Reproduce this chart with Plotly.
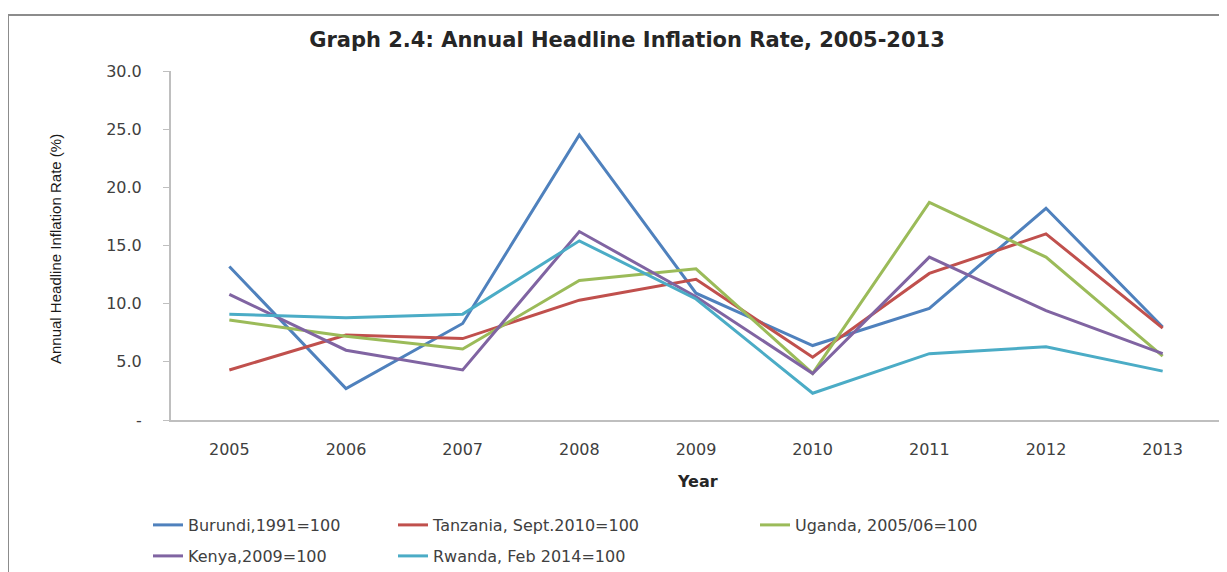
import plotly.graph_objects as go

years = ["2005", "2006", "2007", "2008", "2009", "2010", "2011", "2012", "2013"]
burundi = [13.2, 2.7, 8.3, 24.5, 10.9, 6.4, 9.6, 18.2, 8.0]
tanzania = [4.3, 7.3, 7.0, 10.3, 12.1, 5.4, 12.6, 16.0, 7.9]
uganda = [8.6, 7.2, 6.1, 12.0, 13.0, 4.0, 18.7, 14.0, 5.5]
kenya = [10.8, 6.0, 4.3, 16.2, 10.6, 4.0, 14.0, 9.4, 5.7]
rwanda = [9.1, 8.8, 9.1, 15.4, 10.4, 2.3, 5.7, 6.3, 4.2]

series_names = ["Burundi,1991=100", "Tanzania, Sept.2010=100", "Uganda, 2005/06=100",
                "Kenya,2009=100", "Rwanda, Feb 2014=100"]
series_values = [burundi, tanzania, uganda, kenya, rwanda]
colors = ["#4F81BD", "#C0504D", "#9BBB59", "#8064A2", "#4BACC6"]

y_tickvals = [0, 5, 10, 15, 20, 25, 30]
y_ticktext = ["-", "5.0", "10.0", "15.0", "20.0", "25.0", "30.0"]

# page has an 8px body margin; positions below are given in screen pixels
OFF = 8
W, H = 1227, 572
plot_left, plot_right, plot_top, plot_bottom = 171, 1221, 71, 420
L = plot_left - OFF
T = plot_top - OFF
R = W - (plot_right - OFF)
B = H - (plot_bottom - OFF)
pw, ph = W - L - R, H - T - B

def px_x(px):
    return (px - OFF - L) / pw

def px_y(py):
    return (H - B - (py - OFF)) / ph

legend_names = ["legend", "legend2", "legend3", "legend4", "legend5"]
legend_pos = [(148, 525), (393, 525), (755, 525), (148, 556), (393, 556)]

fig = go.Figure()
for name, vals, col, lg in zip(series_names, series_values, colors, legend_names):
    fig.add_trace(go.Scatter(x=years, y=vals, mode="lines", name=name,
                             line=dict(color=col, width=3), legend=lg))

font_main = "DejaVu Sans"
layout_legends = {}
for lg, (lx, ly) in zip(legend_names, legend_pos):
    layout_legends[lg] = dict(x=px_x(lx), y=px_y(ly), xanchor="left", yanchor="middle",
                              orientation="h", bgcolor="rgba(0,0,0,0)",
                              font=dict(family=font_main, size=16, color="#404040"))

fig.update_layout(
    width=W, height=H,
    margin=dict(l=L, r=R, t=T, b=B, autoexpand=False),
    paper_bgcolor="white", plot_bgcolor="white",
    showlegend=True,
    title=dict(text="<b>Graph 2.4: Annual Headline Inflation Rate, 2005-2013</b>",
               x=(627 - OFF) / W, xanchor="center", y=1 - (40 - OFF) / H, yanchor="middle",
               font=dict(family=font_main, size=21, color="#262626")),
    xaxis=dict(type="category", range=[-0.5, 8.5], showline=True, linecolor="#BFBFBF",
               linewidth=2, showgrid=False, zeroline=False, ticks="",
               tickfont=dict(family=font_main, size=16, color="#404040"),
               ticklabelstandoff=14),
    yaxis=dict(range=[0, 30], tickvals=y_tickvals, ticktext=y_ticktext, showline=True,
               linecolor="#BFBFBF", linewidth=2, ticks="outside", ticklen=6,
               tickcolor="#BFBFBF", showgrid=False, zeroline=False,
               tickfont=dict(family=font_main, size=16, color="#404040"),
               ticklabelstandoff=18),
    annotations=[
        dict(text="Annual Headline Inflation Rate (%)", textangle=-90, xref="paper", yref="paper",
             x=px_x(55), y=px_y(249), xanchor="center", yanchor="middle", showarrow=False,
             font=dict(family="Liberation Sans Narrow, Liberation Sans", size=15, color="#1a1a1a")),
        dict(text="<b>Year</b>", xref="paper", yref="paper", x=px_x(697), y=px_y(481),
             xanchor="center", yanchor="middle", showarrow=False,
             font=dict(family=font_main, size=16, color="#262626")),
    ],
    shapes=[
        dict(type="rect", xref="paper", yref="paper", x0=px_x(8), x1=px_x(1260),
             y0=px_y(620), y1=px_y(15), line=dict(color="#8C8C8C", width=2),
             fillcolor="rgba(0,0,0,0)", layer="below"),
    ],
    **layout_legends,
)

fig.write_html("out.html")
